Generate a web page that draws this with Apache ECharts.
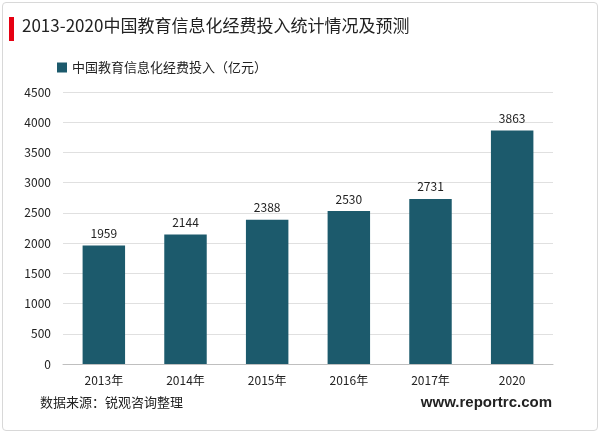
<!DOCTYPE html>
<html><head><meta charset="utf-8">
<script src="https://cdn.jsdelivr.net/npm/echarts@6/dist/echarts.min.js"></script>
<style>html,body{margin:0;padding:0;background:#fff}
#wrap{position:absolute;left:2px;top:2px;width:594px;height:427px;border:1px solid #d8d8d8;border-radius:4px}
#c{width:600px;height:433px;position:absolute;left:0;top:0}</style>
</head><body><div id="wrap"></div><div id="c"></div>
<script>
const categories = ['2013年','2014年','2015年','2016年','2017年','2020'];
const values = [1959, 2144, 2388, 2530, 2731, 3863];
const seriesName = '中国教育信息化经费投入（亿元）';
const yTicks = {min:0, max:4500, interval:500};
const F = '"Microsoft YaHei","Noto Sans CJK SC",sans-serif';
const chart = echarts.init(document.getElementById('c'));
chart.setOption({
  animation:false,
  textStyle:{fontFamily:F},
  graphic:[
    {type:'rect',shape:{x:9,y:17,width:5,height:24},style:{fill:'#e60012'}},
    {type:'text',left:22,top:17,style:{text:'2013-2020中国教育信息化经费投入统计情况及预测',font:'17px '+F,fill:'#222'}},
    {type:'text',left:40,top:396,style:{text:'数据来源：锐观咨询整理',font:'13px '+F,fill:'#222'}},
    {type:'text',right:48,top:395,style:{text:'www.reportrc.com',font:'bold 15px Arial,"Liberation Sans",sans-serif',fill:'#222'}}
  ],
  legend:{left:52,top:56,itemWidth:10,itemHeight:10,icon:'rect',textStyle:{fontSize:13,color:'#222',fontFamily:F},data:[seriesName]},
  grid:{left:63,right:47,top:92,bottom:69},
  xAxis:{type:'category',data:categories,axisTick:{show:false},axisLine:{lineStyle:{color:'#bfbfbf'}},
    axisLabel:{color:'#222',fontSize:12,margin:10}},
  yAxis:{type:'value',min:yTicks.min,max:yTicks.max,interval:yTicks.interval,
    axisLine:{show:false},axisTick:{show:false},splitLine:{lineStyle:{color:'#e0e0e0'}},
    axisLabel:{color:'#222',fontSize:12,margin:12,formatter:v=>String(v)}},
  series:[{name:seriesName,type:'bar',data:values,barWidth:'52%',itemStyle:{color:'#1c5a6c'},
    label:{show:true,position:'top',color:'#222',fontSize:12,distance:6}}]
});
</script></body></html>
